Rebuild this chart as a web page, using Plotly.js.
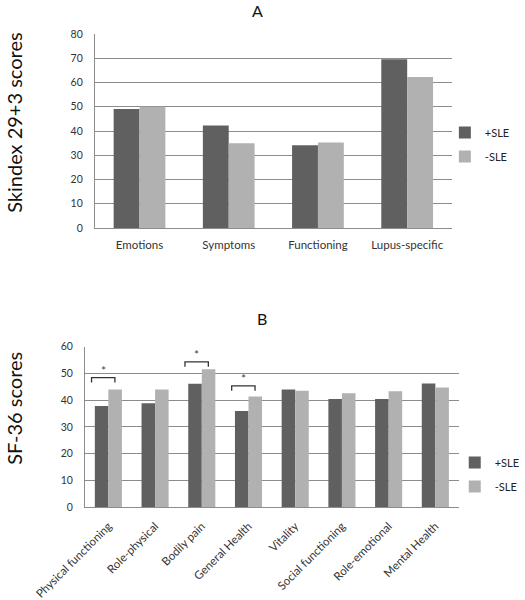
<!DOCTYPE html>
<html>
<head>
<meta charset="utf-8">
<script src="https://cdn.plot.ly/plotly-3.0.1.min.js"></script>
<style>html,body{margin:0;padding:0;background:#fff;}#chart{width:525px;height:600px;}</style>
</head>
<body>
<div id="chart"></div>
<script>
// Panel A: Skindex 29+3
const catsA = ["Emotions", "Symptoms", "Functioning", "Lupus-specific"];
const plusA = [49.1, 42.3, 34.1, 69.6];
const minusA = [50.0, 34.9, 35.3, 62.3];

// Panel B: SF-36
const catsB = ["Physical functioning", "Role-physical", "Bodily pain", "General Health",
               "Vitality", "Social functioning", "Role-emotional", "Mental Health"];
const plusB = [37.8, 38.8, 46.1, 35.9, 44.0, 40.4, 40.4, 46.2];
const minusB = [44.0, 44.0, 51.6, 41.4, 43.5, 42.6, 43.3, 44.7];

// Significance brackets (panel B)
const sigCats = ["Physical functioning", "Bodily pain", "General Health"];
const sigTop = [48.4, 54.3, 45.3];
const sigLabel = "*";

const seriesNames = ["+SLE", "-SLE"];
const darkC = "#606060", lightC = "#b1b1b1";
const FONT = "Lato, 'Open Sans', sans-serif";

const traces = [
  {type: "bar", x: catsA, y: plusA, name: seriesNames[0], marker: {color: darkC}, xaxis: "x", yaxis: "y", legend: "legend", legendgroup: "a1"},
  {type: "bar", x: catsA, y: minusA, name: seriesNames[1], marker: {color: lightC}, xaxis: "x", yaxis: "y", legend: "legend", legendgroup: "a2"},
  {type: "bar", x: catsB, y: plusB, name: seriesNames[0], marker: {color: darkC}, xaxis: "x2", yaxis: "y2", legend: "legend2", legendgroup: "b1"},
  {type: "bar", x: catsB, y: minusB, name: seriesNames[1], marker: {color: lightC}, xaxis: "x2", yaxis: "y2", legend: "legend2", legendgroup: "b2"}
];

const shapes = [];
const annotations = [];
sigCats.forEach((c, i) => {
  const idx = catsB.indexOf(c);
  const x0 = idx - 0.36, x1 = idx + 0.14, top = sigTop[i], drop = 1.8;
  shapes.push({type: "path", xref: "x2", yref: "y2",
    path: `M${x0},${top - drop} L${x0},${top} L${x1},${top} L${x1},${top - drop}`,
    line: {color: "#333", width: 1.3}});
  annotations.push({xref: "x2", yref: "y2", x: (x0 + x1) / 2, y: top, xanchor: "center", yanchor: "bottom", yshift: -2,
    text: sigLabel, showarrow: false, font: {family: FONT, size: 12, color: "#444"}});
});

annotations.push(
  {xref: "paper", yref: "paper", x: 260 / 525, y: 1 - 10 / 600, xanchor: "center", yanchor: "middle", text: "A", showarrow: false,
   font: {family: FONT, size: 16, color: "#111"}},
  {xref: "paper", yref: "paper", x: 265 / 525, y: 1 - 318 / 600, xanchor: "center", yanchor: "middle", text: "B", showarrow: false,
   font: {family: FONT, size: 16, color: "#111"}},
  {xref: "paper", yref: "paper", x: 14 / 525, y: 1 - 122 / 600, xanchor: "center", yanchor: "middle", text: "Skindex 29+3 scores", textangle: -90,
   showarrow: false, font: {family: FONT, size: 20, color: "#111"}},
  {xref: "paper", yref: "paper", x: 14 / 525, y: 1 - 408 / 600, xanchor: "center", yanchor: "middle", text: "SF-36 scores", textangle: -90,
   showarrow: false, font: {family: FONT, size: 20, color: "#111"}}
);

const yax = (dom, rng) => ({domain: dom, range: rng, dtick: 10, showgrid: true, gridcolor: "#8c8c8c", gridwidth: 1,
  showline: true, linecolor: "#8c8c8c", linewidth: 1, zeroline: false, ticks: "", fixedrange: true,
  ticklabelstandoff: 9, tickfont: {family: FONT, size: 10.5, color: "#333"}});

const layout = {
  width: 525, height: 600,
  margin: {l: 0, r: 0, t: 0, b: 0},
  paper_bgcolor: "#fff", plot_bgcolor: "#fff",
  barmode: "group", bargap: 0.42, bargroupgap: 0,
  font: {family: FONT, color: "#333"},
  xaxis: {domain: [96 / 525, 457 / 525], anchor: "y", showline: true, linecolor: "#8c8c8c", linewidth: 1,
    ticks: "", automargin: false, ticklabelstandoff: 6, tickfont: {family: FONT, size: 11.5, color: "#333"}, tickangle: 0},
  yaxis: Object.assign(yax([1 - 228 / 600, 1 - 34 / 600], [0, 80]), {anchor: "x"}),
  xaxis2: {domain: [86 / 525, 464 / 525], anchor: "y2", showline: true, linecolor: "#8c8c8c", linewidth: 1,
    ticks: "", automargin: false, ticklabelstandoff: 7, tickfont: {family: FONT, size: 11.5, color: "#333"}, tickangle: -45},
  yaxis2: Object.assign(yax([1 - 507 / 600, 1 - 346.7 / 600], [0, 60]), {anchor: "x2"}),
  legend: {x: 450 / 525, y: 1 - 118 / 600, xanchor: "left", yanchor: "top", bgcolor: "rgba(0,0,0,0)",
    font: {family: FONT, size: 11, color: "#222"}, tracegroupgap: 5, itemclick: false},
  legend2: {x: 460 / 525, y: 1 - 448 / 600, xanchor: "left", yanchor: "top", bgcolor: "rgba(0,0,0,0)",
    font: {family: FONT, size: 11, color: "#222"}, tracegroupgap: 5, itemclick: false},
  shapes: shapes,
  annotations: annotations
};

Plotly.newPlot("chart", traces, layout, {displayModeBar: false, staticPlot: true});
</script>
</body>
</html>
